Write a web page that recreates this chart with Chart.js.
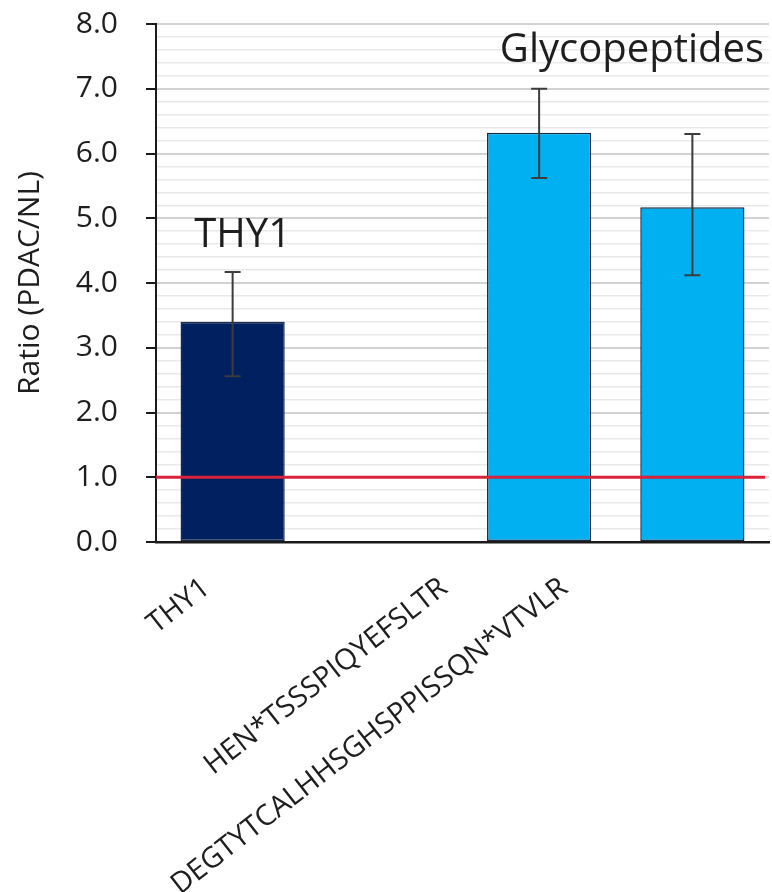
<!DOCTYPE html>
<html>
<head>
<meta charset="utf-8">
<title>Ratio (PDAC/NL)</title>
<script src="https://cdn.jsdelivr.net/npm/chart.js@4.4.1/dist/chart.umd.min.js"></script>
<style>
    html, body { margin: 0; padding: 0; background: #ffffff; }
    canvas { display: block; }
</style>
</head>
<body>
<canvas id="ratioChart" width="772" height="892"></canvas>
<script>
// data
const categories = ['THY1', '', 'HEN*TSSSPIQYEFSLTR', 'DEGTYTCALHHSGHSPPISSQN*VTVLR'];
const ratios = [3.40, null, 6.32, 5.17];
const errLow = [2.56, null, 5.62, 4.12];
const errHigh = [4.17, null, 7.00, 6.30];
const yMin = 0;
const yMax = 8;
const yStep = 0.2;
const refLevel = 1.0;

const barColors = ['#002060', '#002060', '#00b0f0', '#00b0f0'];
const labelShift = [-21, -90, -123];   // excel pushes the rotated labels to the left
const font = "'Open Sans', 'DejaVu Sans', sans-serif";
const ink = '#1e1e1e';

function isMajor(v) {
    return Math.abs(v - Math.round(v)) < 1e-6;
}

// error bars, red 1.0 line and the text labels
const overlayPlugin = {
    id: 'overlay',
    afterDatasetsDraw(chart) {
        const ctx = chart.ctx;
        const x = chart.scales.x;
        const y = chart.scales.y;
        const area = chart.chartArea;

        ctx.save();
        ctx.strokeStyle = '#3c3c3c';
        ctx.lineWidth = 2;
        ratios.forEach((v, i) => {
            if (v === null) return;
            const cx = x.getPixelForValue(i);
            const top = y.getPixelForValue(errHigh[i]);
            const bot = y.getPixelForValue(errLow[i]);
            ctx.beginPath();
            ctx.moveTo(cx, top);
            ctx.lineTo(cx, bot);
            ctx.moveTo(cx - 8, top);
            ctx.lineTo(cx + 8, top);
            ctx.moveTo(cx - 8, bot);
            ctx.lineTo(cx + 8, bot);
            ctx.stroke();
        });

        const ry = y.getPixelForValue(refLevel);
        ctx.strokeStyle = '#d8233a';
        ctx.lineWidth = 3;
        ctx.beginPath();
        ctx.moveTo(area.left, ry);
        ctx.lineTo(area.right - 4, ry);
        ctx.stroke();

        ctx.fillStyle = ink;
        ctx.font = '40px ' + font;
        ctx.textAlign = 'center';
        ctx.textBaseline = 'alphabetic';
        ctx.fillText('THY1', x.getPixelForValue(0) + 10, y.getPixelForValue(4.56));
        ctx.textAlign = 'right';
        ctx.fillText('Glycopeptides', area.right - 5, y.getPixelForValue(7.41));

        // rotated category labels
        ctx.font = '29px ' + font;
        ctx.textAlign = 'right';
        let k = 0;
        categories.forEach((c, i) => {
            if (!c) return;
            const px = x.getPixelForValue(i) + labelShift[k++];
            const py = area.bottom + 49;
            ctx.save();
            ctx.translate(px, py);
            ctx.rotate(-38 * Math.PI / 180);
            ctx.fillText(c, 0, 0);
            ctx.restore();
        });
        ctx.restore();
    }
};

new Chart(document.getElementById('ratioChart').getContext('2d'), {
    type: 'bar',
    data: {
        labels: categories,
        datasets: [{
            label: 'Ratio',
            data: ratios,
            backgroundColor: barColors,
            borderColor: '#1b2a44',
            borderWidth: 1.5,
            borderSkipped: false,
            barPercentage: 0.68,
            categoryPercentage: 1.0
        }]
    },
    options: {
        responsive: false,
        animation: false,
        layout: { padding: { left: 0, right: 3, top: 24, bottom: 0 } },
        plugins: {
            legend: { display: false },
            tooltip: { enabled: false }
        },
        scales: {
            x: {
                grid: { display: false },
                border: { color: '#1a1a1a', width: 2.5 },
                ticks: { display: false },
                afterFit: s => { s.height = 350; }
            },
            y: {
                min: yMin,
                max: yMax,
                ticks: {
                    stepSize: yStep,
                    autoSkip: false,
                    padding: 28,
                    color: ink,
                    font: { family: font, size: 30 },
                    callback: v => isMajor(v) ? v.toFixed(1) : ''
                },
                grid: {
                    color: c => isMajor(c.tick.value) ? '#d2d2d2' : '#e9e9e9',
                    lineWidth: c => isMajor(c.tick.value) ? 2 : 1.5,
                    tickLength: 10,
                    tickColor: c => isMajor(c.tick.value) ? '#1a1a1a' : 'rgba(0,0,0,0)',
                    tickWidth: 2
                },
                border: { color: '#1a1a1a', width: 2 },
                title: {
                    display: true,
                    text: 'Ratio (PDAC/NL)',
                    color: ink,
                    font: { family: font, size: 30 },
                    padding: { top: 12, bottom: 0 }
                },
                afterFit: s => {
                    s.width = 156;
                    s.paddingTop = 0;
                    s.paddingBottom = 0;
                }
            }
        }
    },
    plugins: [overlayPlugin]
});
</script>
</body>
</html>
